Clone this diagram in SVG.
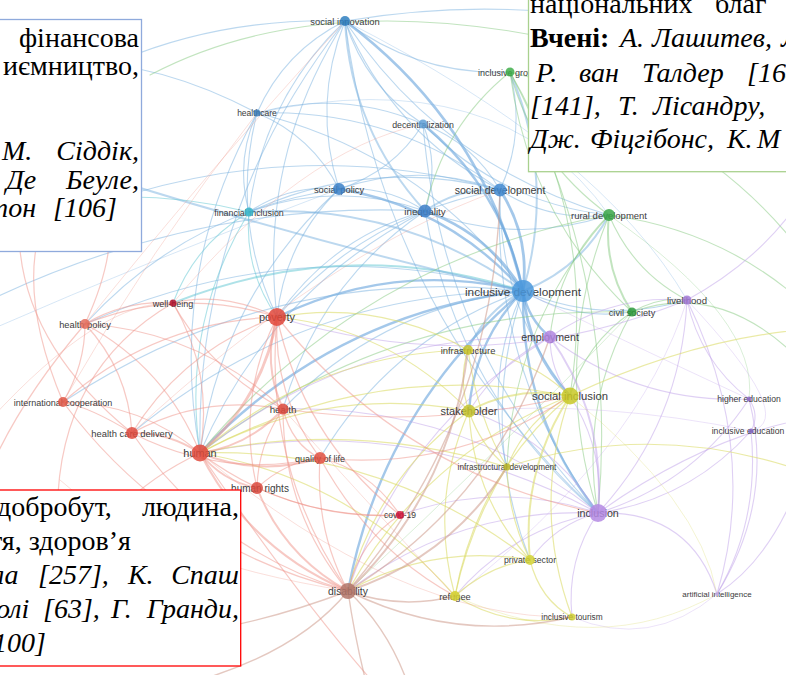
<svg xmlns="http://www.w3.org/2000/svg" width="786" height="675" viewBox="0 0 786 675">
<style>
.e path{fill:none;stroke-linecap:round}
.bs{stroke:#5a9bd8;stroke-width:2.4;stroke-opacity:.55}
.b{stroke:#7ab1e0;stroke-width:1.1;stroke-opacity:.5}
.t{stroke:#6ccad6;stroke-width:1.1;stroke-opacity:.55}
.g{stroke:#86c97f;stroke-width:1.1;stroke-opacity:.5}
.p{stroke:#bfa2ea;stroke-width:1.1;stroke-opacity:.5}
.y{stroke:#dcdc6a;stroke-width:1.2;stroke-opacity:.6}
.r{stroke:#ef9489;stroke-width:1.2;stroke-opacity:.5}
.n{stroke:#cd9a8c;stroke-width:1.4;stroke-opacity:.55}
.w2{stroke-width:2}
.w3{stroke-width:2.8}
.f{stroke-opacity:.3;stroke-width:1}
.l{font-family:"Liberation Sans",Arial,sans-serif;fill:#3c3c3c;text-anchor:middle}
.nd{fill-opacity:.85}
.bx{font-family:"Liberation Serif","Times New Roman",serif;font-size:28px;fill:#000}
.it{font-style:italic}
.bd{font-weight:bold}
.en{text-anchor:end}
.box{fill:#fff;stroke-width:1.3}
</style>
<rect width="786" height="675" fill="#fff"/>

<!-- connectors -->
<g id="links" class="e">
<!-- blue cluster -->
<path class="bs w3" d="M523 291Q483 124 345 21"/>
<path class="bs w3" d="M523 291Q530 236 500 190"/>
<path class="bs w3" d="M523 291Q488 233 425 211"/>
<path class="bs" d="M523 291Q449 207 339 189"/>
<path class="bs" d="M523 291Q503 190 423 124"/>
<path class="b" d="M523 291Q422 154 257 113"/>
<path class="b w2" d="M523 291Q400 202 249 212"/>
<path class="bs" d="M523 291Q395 260 277 317"/>
<path class="bs" d="M523 291Q332 314 200 453"/>
<path class="bs" d="M523 291Q528 319 550 337"/>
<path class="bs w3" d="M523 291Q528 352 570 396"/>
<path class="bs" d="M523 291Q474 341 469 411"/>
<path class="bs" d="M523 291Q521 416 598 513"/>
<path class="bs" d="M523 291Q382 410 348 591"/>
<path class="b w2" d="M523 291Q580 269 609 215"/>
<path class="b" d="M523 291Q574 321 632 312"/>
<path class="b" d="M523 291Q603 325 687 300"/>
<path class="b w2" d="M523 291Q556 179 510 72"/>
<path class="b w2" d="M523 291Q485 311 468 350"/>
<path class="b" d="M523 291Q382 307 283 409"/>
<path class="b" d="M523 291Q298 229 85 324"/>
<path class="t w2" d="M523 291Q346 234 173 303"/>
<path class="b" d="M523 291Q483 376 507 467"/>
<path class="b" d="M523 291Q478 427 530 560"/>
<path class="b" d="M523 291Q392 338 320 458"/>
<path class="b" d="M523 291Q302 292 132 433"/>
<path class="b" d="M523 291Q273 264 63 402"/>
<path class="b w2" d="M523 291Q260 230 -10 140"/>
<path class="b" d="M345 21Q392 133 500 190"/>
<path class="b w2" d="M345 21Q351 130 425 211"/>
<path class="b" d="M345 21Q312 104 339 189"/>
<path class="b" d="M345 21Q366 87 423 124"/>
<path class="b" d="M345 21Q284 51 257 113"/>
<path class="b" d="M345 21Q263 99 249 212"/>
<path class="b" d="M345 21Q258 157 277 317"/>
<path class="b" d="M345 21Q195 211 200 453"/>
<path class="b" d="M345 21Q383 313 598 513"/>
<path class="b" d="M345 21Q442 166 609 215"/>
<path class="b" d="M345 21Q418 76 510 72"/>
<path class="b" d="M345 21Q141 15 -10 140"/>
<path class="b" d="M345 21Q530 -10 700 40"/>
<path class="b w2" d="M500 190Q459 187 425 211"/>
<path class="b" d="M500 190Q420 161 339 189"/>
<path class="b" d="M500 190Q473 143 423 124"/>
<path class="b" d="M500 190Q550 222 609 215"/>
<path class="b" d="M500 190Q526 133 510 72"/>
<path class="b" d="M500 190Q392 108 257 113"/>
<path class="b" d="M500 190Q371 156 249 212"/>
<path class="b" d="M500 190Q366 214 277 317"/>
<path class="b" d="M500 190Q491 369 598 513"/>
<path class="b" d="M500 190Q498 306 570 396"/>
<path class="b" d="M500 190Q250 120 -10 250"/>
<path class="b" d="M425 211Q386 185 339 189"/>
<path class="b" d="M425 211Q332 237 277 317"/>
<path class="b" d="M425 211Q269 292 200 453"/>
<path class="b" d="M425 211Q440 167 423 124"/>
<path class="b" d="M425 211Q337 180 249 212"/>
<path class="b" d="M425 211Q457 393 598 513"/>
<path class="b" d="M425 211Q318 284 283 409"/>
<path class="b" d="M425 211Q516 246 609 215"/>
<path class="b" d="M425 211Q200 200 -10 300"/>
<path class="b" d="M339 189Q285 242 277 317"/>
<path class="b" d="M339 189Q312 136 257 113"/>
<path class="b" d="M339 189Q290 184 249 212"/>
<path class="b" d="M339 189Q222 296 200 453"/>
<path class="b" d="M339 189Q393 172 423 124"/>
<path class="b" d="M339 189Q188 211 85 324"/>
<path class="b" d="M257 113Q235 161 249 212"/>
<path class="b" d="M257 113Q230 219 277 317"/>
<path class="b" d="M257 113Q167 273 200 453"/>
<path class="b" d="M257 113Q120 40 -10 70"/>
<path class="b" d="M423 124Q342 89 257 113"/>
<path class="b" d="M423 124Q500 203 609 215"/>
<path class="b" d="M423 124Q441 350 598 513"/>
<path class="b f" d="M345 21Q600 150 687 300"/>
<path class="b f" d="M257 113Q500 60 609 215"/>
<path class="b f" d="M-10 330Q150 260 339 189"/>
<path class="t" d="M249 212Q244 270 277 317"/>
<path class="t" d="M249 212Q195 244 173 303"/>
<path class="t" d="M249 212Q120 180 -10 215"/>
<path class="t" d="M249 212Q181 324 200 453"/>
<!-- green cluster -->
<path class="g" d="M510 72Q534 161 609 215"/>
<path class="g" d="M510 72Q528 214 632 312"/>
<path class="g w2" d="M609 215Q603 268 632 312"/>
<path class="g" d="M609 215Q550 362 598 513"/>
<path class="g" d="M609 215Q633 272 687 300"/>
<path class="g" d="M609 215Q558 265 550 337"/>
<path class="g" d="M632 312Q586 343 570 396"/>
<path class="g" d="M632 312Q579 406 598 513"/>
<path class="g" d="M510 72Q620 280 598 513"/>
<path class="g" d="M510 72Q598 223 570 396"/>
<path class="g" d="M510 72Q700 120 800 250"/>
<path class="g" d="M609 215Q720 230 800 300"/>
<path class="g" d="M632 312Q660 296 687 300"/>
<path class="g" d="M632 312Q720 280 800 360"/>
<path class="g" d="M510 72Q443 126 425 211"/>
<path class="g" d="M150 75Q340 -25 640 60"/>
<path class="g" d="M609 215Q513 323 507 467"/>
<path class="g" d="M632 312Q391 305 200 453"/>
<path class="g" d="M609 215Q362 260 200 453"/>
<path class="g f" d="M632 312Q500 450 348 591"/>
<path class="g f" d="M609 215Q760 320 749 399"/>
<!-- purple cluster -->
<path class="p w2" d="M598 513Q606 416 550 337"/>
<path class="p" d="M598 513Q681 423 687 300"/>
<path class="p" d="M598 513Q694 483 749 399"/>
<path class="p" d="M598 513Q689 500 751 431"/>
<path class="p" d="M598 513Q690 510 717 594"/>
<path class="p" d="M598 513Q605 450 570 396"/>
<path class="p" d="M598 513Q552 439 469 411"/>
<path class="p" d="M598 513Q556 524 530 560"/>
<path class="p" d="M598 513Q459 507 348 591"/>
<path class="p" d="M598 513Q512 529 455 596"/>
<path class="p" d="M598 513Q566 560 572 617"/>
<path class="p" d="M598 513Q410 411 200 453"/>
<path class="p" d="M598 513Q459 404 283 409"/>
<path class="p" d="M598 513Q499 480 400 515"/>
<path class="p" d="M598 513Q700 440 800 420"/>
<path class="p" d="M687 300Q612 294 550 337"/>
<path class="p" d="M687 300Q700 361 749 399"/>
<path class="p" d="M687 300Q760 450 717 594"/>
<path class="p" d="M749 399Q775 500 717 594"/>
<path class="p" d="M751 431Q760 520 717 594"/>
<path class="p" d="M749 399Q760 415 751 431"/>
<path class="p" d="M550 337Q550 370 570 396"/>
<path class="p" d="M550 337Q354 332 200 453"/>
<path class="p" d="M550 337Q500 362 469 411"/>
<path class="p" d="M550 337Q639 404 749 399"/>
<path class="p" d="M687 300Q760 260 800 200"/>
<path class="p" d="M687 300Q485 382 277 317"/>
<path class="p" d="M717 594Q770 560 800 480"/>
<path class="p" d="M550 337Q403 428 348 591"/>
<path class="p f" d="M687 300Q640 450 455 596"/>
<path class="p f" d="M749 399Q600 330 523 291"/>
<path class="p f" d="M751 431Q600 400 469 411"/>
<path class="p f" d="M687 300Q800 420 751 431"/>
<path class="p f" d="M717 594Q650 650 572 617"/>
<!-- yellow cluster -->
<path class="y w2" d="M570 396Q517 385 469 411"/>
<path class="y" d="M570 396Q527 355 468 350"/>
<path class="y w2" d="M570 396Q521 471 530 560"/>
<path class="y" d="M570 396Q526 420 507 467"/>
<path class="y" d="M570 396Q477 475 455 596"/>
<path class="y" d="M570 396Q531 507 572 617"/>
<path class="y" d="M570 396Q424 454 348 591"/>
<path class="y" d="M570 396Q375 358 200 453"/>
<path class="y" d="M469 411Q458 380 468 350"/>
<path class="y" d="M469 411Q473 497 530 560"/>
<path class="y" d="M469 411Q480 445 507 467"/>
<path class="y" d="M469 411Q429 501 455 596"/>
<path class="y" d="M469 411Q376 479 348 591"/>
<path class="y" d="M469 411Q327 384 200 453"/>
<path class="y" d="M469 411Q390 329 277 317"/>
<path class="y" d="M530 560Q540 600 572 617"/>
<path class="y" d="M530 560Q490 565 455 596"/>
<path class="y" d="M530 560Q508 515 507 467"/>
<path class="y" d="M530 560Q433 543 348 591"/>
<path class="y" d="M468 350Q379 299 277 317"/>
<path class="y" d="M468 350Q316 353 200 453"/>
<path class="y" d="M468 350Q478 420 507 467"/>
<path class="y" d="M507 467Q470 525 455 596"/>
<path class="y" d="M507 467Q353 420 200 453"/>
<path class="y" d="M455 596Q510 630 572 617"/>
<path class="y" d="M570 396Q690 340 800 330"/>
<path class="y" d="M507 467Q650 420 800 470"/>
<path class="y" d="M530 560Q384 447 200 453"/>
<path class="y" d="M455 596Q353 479 200 453"/>
<path class="y f" d="M570 396Q700 500 717 594"/>
<path class="y f" d="M455 596Q600 660 717 594"/>
<!-- red cluster -->
<path class="r w3" d="M200 453Q263 399 277 317"/>
<path class="r w2" d="M200 453Q249 446 283 409"/>
<path class="r w2" d="M200 453Q168 432 132 433"/>
<path class="r" d="M200 453Q141 403 63 402"/>
<path class="r" d="M200 453Q166 368 85 324"/>
<path class="r" d="M200 453Q214 373 173 303"/>
<path class="r w2" d="M200 453Q259 477 320 458"/>
<path class="r w2" d="M200 453Q222 481 257 488"/>
<path class="r w2" d="M200 453Q249 549 348 591"/>
<path class="r" d="M200 453Q289 520 400 515"/>
<path class="r" d="M200 453Q100 500 60 600"/>
<path class="r" d="M200 453Q300 600 380 690"/>
<path class="r w2" d="M277 317Q262 363 283 409"/>
<path class="r" d="M277 317Q180 286 85 324"/>
<path class="r" d="M277 317Q222 291 173 303"/>
<path class="r" d="M277 317Q184 349 132 433"/>
<path class="r" d="M277 317Q155 321 63 402"/>
<path class="r" d="M277 317Q273 395 320 458"/>
<path class="r" d="M277 317Q236 399 257 488"/>
<path class="r" d="M277 317Q263 467 348 591"/>
<path class="r" d="M277 317Q303 438 400 515"/>
<path class="r" d="M277 317Q402 473 598 513"/>
<path class="r" d="M283 409Q292 445 320 458"/>
<path class="r" d="M283 409Q203 394 132 433"/>
<path class="r" d="M283 409Q283 512 348 591"/>
<path class="r" d="M283 409Q258 445 257 488"/>
<path class="r" d="M283 409Q199 331 85 324"/>
<path class="r" d="M132 433Q92 408 63 402"/>
<path class="r" d="M132 433Q128 370 85 324"/>
<path class="r" d="M132 433Q212 551 348 591"/>
<path class="r" d="M132 433Q222 479 320 458"/>
<path class="r" d="M63 402Q85 365 85 324"/>
<path class="r" d="M63 402Q172 548 348 591"/>
<path class="r" d="M85 324Q125 300 173 303"/>
<path class="r" d="M320 458Q315 530 348 591"/>
<path class="r" d="M320 458Q285 462 257 488"/>
<path class="r" d="M320 458Q370 470 400 515"/>
<path class="r w2" d="M257 488Q284 556 348 591"/>
<path class="r" d="M257 488Q330 520 400 515"/>
<path class="r" d="M400 515Q360 540 348 591"/>
<path class="r" d="M173 303Q210 370 283 409"/>
<path class="r" d="M63 402Q20 300 40 230"/>
<path class="r" d="M132 433Q30 350 20 250"/>
<path class="r" d="M85 324Q110 270 110 230"/>
<path class="r" d="M85 324Q20 400 -10 470"/>
<path class="r" d="M320 458Q456 472 570 396"/>
<path class="r" d="M283 409Q430 430 570 396"/>
<path class="r" d="M173 303Q40 380 60 560"/>
<path class="r" d="M320 458Q370 550 455 596"/>
<path class="r f" d="M85 324Q200 180 345 21"/>
<path class="r f" d="M63 402Q150 250 257 113"/>
<path class="r f" d="M132 433Q330 250 500 190"/>
<path class="r f" d="M173 303Q300 150 423 124"/>
<path class="r f" d="M200 453Q400 620 572 617"/>
<path class="r f" d="M283 409Q420 560 455 596"/>
<path class="r f" d="M-10 420Q100 300 173 303"/>
<path class="r f" d="M60 480Q150 560 348 591"/>
<!-- disability -->
<path class="n" d="M348 591Q355 640 368 690"/>
<path class="n" d="M348 591Q390 630 410 690"/>
<path class="n" d="M348 591Q300 650 200 680"/>
<path class="n w2" d="M348 591Q451 492 468 350"/>
<path class="n" d="M348 591Q495 500 550 337"/>
<path class="n w2" d="M348 591Q450 558 507 467"/>
<path class="n" d="M348 591Q496 418 500 190"/>
<path class="n" d="M348 591Q400 610 455 596"/>
<path class="n" d="M348 591Q455 644 572 617"/>
<path class="n" d="M348 591Q220 640 100 640"/>
</g>

<!-- nodes -->
<g id="nodes">
<g id="n-social-innovation"><text class="l" x="345" y="24.5" font-size="9.4">social innovation</text><circle class="nd" cx="345" cy="21" r="5" fill="#2f7fbf"/></g>
<g id="n-healthcare"><text class="l" x="257" y="116" font-size="8.5">healthcare</text><circle class="nd" cx="257" cy="113" r="3.5" fill="#3f7fb8"/></g>
<g id="n-decentralization"><text class="l" x="423" y="127.5" font-size="8.8">decentralization</text><circle class="nd" cx="423" cy="124" r="4.5" fill="#5f9fd6"/></g>
<g id="n-inclusive-growth"><text class="l" x="510" y="75.5" font-size="9">inclusive growth</text><circle class="nd" cx="510" cy="72" r="4.5" fill="#3fae4a"/></g>
<g id="n-social-policy"><text class="l" x="339" y="192.5" font-size="9.3">social policy</text><circle class="nd" cx="339" cy="189" r="6" fill="#3a80c8"/></g>
<g id="n-financial-inclusion"><text class="l" x="249" y="215.5" font-size="8.9">financial inclusion</text><circle class="nd" cx="249" cy="212" r="4.5" fill="#37b5c9"/></g>
<g id="n-inequality"><text class="l" x="425" y="214.5" font-size="9.8">inequality</text><circle class="nd" cx="425" cy="211" r="6.5" fill="#3d7fc8"/></g>
<g id="n-social-development"><text class="l" x="500" y="194" font-size="10.6">social development</text><circle class="nd" cx="500" cy="190" r="6.5" fill="#3f88d0"/></g>
<g id="n-rural-development"><text class="l" x="609" y="218.5" font-size="9.5">rural development</text><circle class="nd" cx="609" cy="215" r="6" fill="#3aa648"/></g>
<g id="n-inclusive-development"><text class="l" x="523" y="295.5" font-size="11.8">inclusive development</text><circle class="nd" cx="523" cy="291" r="11" fill="#4a98dc"/></g>
<g id="n-civil-society"><text class="l" x="632" y="315.5" font-size="9.2">civil society</text><circle class="nd" cx="632" cy="312" r="4.5" fill="#2e9a3c"/></g>
<g id="n-livelihood"><text class="l" x="687" y="303.5" font-size="9.6">livelihood</text><circle class="nd" cx="687" cy="300" r="4.5" fill="#a37ad6"/></g>
<g id="n-employment"><text class="l" x="550" y="341" font-size="10.6">employment</text><circle class="nd" cx="550" cy="337" r="6.5" fill="#b185e0"/></g>
<g id="n-infrastructure"><text class="l" x="468" y="353.5" font-size="9.4">infrastructure</text><circle class="nd" cx="468" cy="350" r="5" fill="#c9c52c"/></g>
<g id="n-well-being"><text class="l" x="173" y="306.5" font-size="9">well-being</text><circle class="nd" cx="173" cy="303" r="3.5" fill="#b3122d"/></g>
<g id="n-health-policy"><text class="l" x="85" y="327.5" font-size="9.3">health policy</text><circle class="nd" cx="85" cy="324" r="5" fill="#e36b5a"/></g>
<g id="n-poverty"><text class="l" x="277" y="321" font-size="11">poverty</text><circle class="nd" cx="277" cy="317" r="9" fill="#e2473a"/></g>
<g id="n-international-cooperation"><text class="l" x="63" y="405.5" font-size="9">international cooperation</text><circle class="nd" cx="63" cy="402" r="5" fill="#e05747"/></g>
<g id="n-health"><text class="l" x="283" y="412.5" font-size="9.8">health</text><circle class="nd" cx="283" cy="409" r="5.5" fill="#dc4b3d"/></g>
<g id="n-health-care-delivery"><text class="l" x="132" y="436.5" font-size="9.4">health care delivery</text><circle class="nd" cx="132" cy="433" r="6" fill="#df4b3f"/></g>
<g id="n-human"><text class="l" x="200" y="457" font-size="10.9">human</text><circle class="nd" cx="200" cy="453" r="8.5" fill="#e04a3c"/></g>
<g id="n-quality-of-life"><text class="l" x="320" y="461.5" font-size="9">quality of life</text><circle class="nd" cx="320" cy="458" r="6" fill="#e15041"/></g>
<g id="n-human-rights"><text class="l" x="260" y="491.5" font-size="10">human rights</text><circle class="nd" cx="257" cy="488" r="6" fill="#d9493d"/></g>
<g id="n-covid-19"><text class="l" x="400" y="518" font-size="8.5">covid-19</text><circle class="nd" cx="400" cy="515" r="4" fill="#d3143c"/></g>
<g id="n-inclusion"><text class="l" x="598" y="517" font-size="10.7">inclusion</text><circle class="nd" cx="598" cy="513" r="9" fill="#b48ae3"/></g>
<g id="n-private-sector"><text class="l" x="530" y="563" font-size="8.7">private sector</text><circle class="nd" cx="530" cy="560" r="5" fill="#d2d236"/></g>
<g id="n-disability"><text class="l" x="348" y="594.5" font-size="10.4">disability</text><circle class="nd" cx="348" cy="591" r="8" fill="#b27468"/></g>
<g id="n-refugee"><text class="l" x="455" y="599.5" font-size="9.3">refugee</text><circle class="nd" cx="455" cy="596" r="5" fill="#d2cf2e"/></g>
<g id="n-inclusive-tourism"><text class="l" x="572" y="620" font-size="8.3">inclusive tourism</text><circle class="nd" cx="572" cy="617" r="3.5" fill="#cfcc34"/></g>
<g id="n-artificial-intelligence"><text class="l" x="717" y="597" font-size="8">artificial intelligence</text><circle class="nd" cx="717" cy="594" r="2" fill="#c6aeea"/></g>
<g id="n-infrastructural-development"><text class="l" x="507" y="470" font-size="8.2">infrastructural development</text><circle class="nd" cx="507" cy="467" r="3.5" fill="#b9b52a"/></g>
<g id="n-higher-education"><text class="l" x="749" y="402" font-size="8.6">higher education</text><circle class="nd" cx="749" cy="399" r="2.5" fill="#8f6cc9"/></g>
<g id="n-inclusive-education"><text class="l" x="748" y="434" font-size="8.6">inclusive education</text><circle class="nd" cx="751" cy="431" r="2.5" fill="#8466c4"/></g>
<g id="n-social-inclusion"><text class="l" x="570" y="400" font-size="11.3">social inclusion</text><circle class="nd" cx="570" cy="396" r="8.5" fill="#c8c827"/></g>
<g id="n-stakeholder"><text class="l" x="469" y="415" font-size="11">stakeholder</text><circle class="nd" cx="469" cy="411" r="6.5" fill="#c4c430"/></g>
</g>

<!-- callout boxes -->
<g id="box-blue" class="bx">
<rect class="box" x="-2" y="19.5" width="143.5" height="232" stroke="#8faadc"/>
<text class="en" x="139" y="47">фінансова</text>
<text class="en" x="139" y="75">иємництво,</text>
<text class="it" x="2" y="160">М.</text>
<text class="it en" x="139" y="160">Сіддік,</text>
<text class="it" x="6" y="189">Де</text>
<text class="it en" x="139" y="189">Беуле,</text>
<text class="it" x="-12" y="217">тон</text>
<text class="it" x="53" y="217">[106]</text>
</g>
<g id="box-green" class="bx">
<rect class="box" x="528.5" y="-2" width="262" height="173.7" stroke="#a9d18e" stroke-width="1.6"/>
<text x="530" y="12.7">національних</text>
<text x="715" y="12.7">благ</text>
<text class="bd" x="530" y="46.7">Вчені:</text>
<text class="it" x="620" y="46.7">А.</text>
<text class="it" x="652" y="46.7">Лашитев,</text>
<text class="it" x="781" y="46.7">Л.</text>
<text class="it" x="536" y="81.7">Р.</text>
<text class="it" x="579" y="81.7">ван</text>
<text class="it" x="642" y="81.7">Талдер</text>
<text class="it" x="747" y="81.7">[164</text>
<text class="it" x="530" y="115">[141],</text>
<text class="it" x="618" y="115">Т.</text>
<text class="it" x="653" y="115">Лісандру,</text>
<text class="it" x="530" y="148">Дж.</text>
<text class="it" x="590" y="148">Фіцгібонс,</text>
<text class="it" x="727" y="148">К.</text>
<text class="it" x="757" y="148">М</text>
</g>
<g id="box-red" class="bx">
<rect class="box" x="-2" y="490" width="242.7" height="176" stroke="#ff0000"/>
<text x="-3" y="516">добробут,</text>
<text class="en" x="239" y="516">людина,</text>
<text x="-10" y="550">тя, здоров’я</text>
<text class="it" x="-8" y="584">ла</text>
<text class="it" x="38" y="584">[257],</text>
<text class="it" x="128" y="584">К.</text>
<text class="it en" x="239" y="584">Спаш</text>
<text class="it" x="-4" y="618">олі</text>
<text class="it" x="43" y="618">[63],</text>
<text class="it" x="111" y="618">Г.</text>
<text class="it en" x="239" y="618">Гранди,</text>
<text class="it" x="-7" y="652">100]</text>
</g>
</svg>
